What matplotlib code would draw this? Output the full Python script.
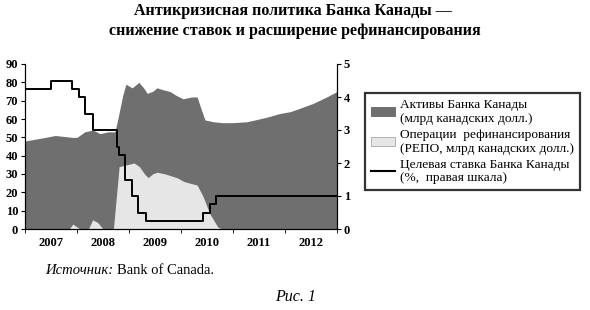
import matplotlib
matplotlib.use("Agg")
import matplotlib.pyplot as plt
from matplotlib.patches import Patch
from matplotlib.lines import Line2D

plt.rcParams["font.family"] = ["Liberation Serif", "DejaVu Serif"]

# Bank of Canada assets, bn CAD (left scale)
assets_t = [2007.0, 2007.2, 2007.4, 2007.58, 2007.75, 2007.9, 2008.0, 2008.15,
            2008.31, 2008.44, 2008.6, 2008.73, 2008.8, 2008.88, 2008.94, 2009.06,
            2009.19, 2009.28, 2009.35, 2009.45, 2009.54, 2009.65, 2009.79, 2009.9,
            2010.04, 2010.2, 2010.31, 2010.38, 2010.46, 2010.62, 2010.8, 2011.0,
            2011.27, 2011.5, 2011.65, 2011.9, 2012.1, 2012.3, 2012.54, 2012.8, 2013.0]
assets_v = [48, 49, 50, 51, 50.5, 50, 50, 53,
            54, 52, 53, 53, 62, 73, 79, 77,
            80, 77, 74, 75, 77, 76, 75, 73,
            71, 72, 72, 66, 59.5, 58.5, 58, 58,
            58.5, 60, 61, 63, 64, 66, 68.5, 72, 75]

# repo operations, bn CAD (left scale)
repo_t = [2007.0, 2007.85, 2007.92, 2007.98, 2008.06, 2008.22, 2008.3, 2008.4,
          2008.5, 2008.7, 2008.81, 2008.95, 2009.1, 2009.2, 2009.3, 2009.37,
          2009.45, 2009.54, 2009.7, 2009.92, 2010.05, 2010.17, 2010.31, 2010.42,
          2010.56, 2010.71, 2010.79, 2013.0]
repo_v = [0, 0, 2.7, 1.5, 0, 0, 5, 3.5,
          0, 0, 34, 35, 36, 34, 30, 28,
          30, 31, 30, 28, 26, 25, 24, 18,
          8, 1, 0, 0]

# target overnight rate, % (right scale)
rate_t = [2007.0, 2007.5, 2007.9, 2008.03, 2008.15, 2008.31, 2008.76, 2008.8,
          2008.93, 2009.05, 2009.17, 2009.32, 2010.42, 2010.55, 2010.68, 2013.0]
rate_v = [4.25, 4.5, 4.25, 4.0, 3.5, 3.0, 2.5, 2.25,
          1.5, 1.0, 0.5, 0.25, 0.5, 0.75, 1.0, 1.0]

years = [2007, 2008, 2009, 2010, 2011, 2012]

dark = "#6f6f6f"
light = "#e6e6e6"

fig = plt.figure(figsize=(5.9, 3.1), dpi=100)
ax = fig.add_axes([25 / 590, 1 - 229 / 310, 312 / 590, 165 / 310])
ax.fill_between(assets_t, 0, assets_v, color=dark, lw=0)
ax.fill_between(repo_t, 0, repo_v, color=light, lw=0)
ax.set_xlim(2007, 2013)
ax.set_ylim(0, 90)
ax.set_yticks(range(0, 91, 10))
ax.set_xticks([y + 0.5 for y in years])
ax.set_xticklabels([str(y) for y in years])
ax.set_xticks(range(2007, 2014), minor=True)
ax.tick_params(axis="x", which="major", length=0, pad=6)
ax.tick_params(axis="x", which="minor", length=3, direction="out")
ax.tick_params(axis="y", length=3, pad=2)
ax.spines["top"].set_visible(False)

ax2 = ax.twinx()
ax2.plot(rate_t, rate_v, color="black", lw=1.4, drawstyle="steps-post")
ax2.set_ylim(0, 5)
ax2.set_yticks(range(0, 6))
ax2.tick_params(axis="y", length=3, pad=2)
ax2.spines["top"].set_visible(False)

for a in (ax, ax2):
    for lab in a.get_xticklabels() + a.get_yticklabels():
        lab.set_fontweight("bold")
        lab.set_fontsize(9)

fig.text(0.497, 1 - 11 / 310, "Антикризисная политика Банка Канады —",
         ha="center", va="center", fontsize=11.5, fontweight="bold")
fig.text(0.5, 1 - 31 / 310, "снижение ставок и расширение рефинансирования",
         ha="center", va="center", fontsize=11.5, fontweight="bold")

handles = [Patch(facecolor=dark, edgecolor="#555555", lw=0.5),
           Patch(facecolor=light, edgecolor="#999999", lw=0.5),
           Line2D([], [], color="black", lw=1.5)]
labels = ["Активы Банка Канады\n(млрд канадских долл.)",
          "Операции  рефинансирования\n(РЕПО, млрд канадских долл.)",
          "Целевая ставка Банка Канады\n(%,  правая шкала)"]
leg = fig.legend(handles, labels, loc="upper left",
                 bbox_to_anchor=(365 / 590, 1 - 93 / 310), borderaxespad=0,
                 fontsize=9.6, frameon=True, fancybox=False, handlelength=1.8,
                 handleheight=0.7, handletextpad=0.4, labelspacing=0.3,
                 borderpad=0.45)
leg.get_frame().set_edgecolor("black")
leg.get_frame().set_linewidth(1.6)

t1 = fig.text(45 / 590, 1 - 270 / 310, "Источник:", fontstyle="italic",
              fontsize=10.5, va="center")
fig.canvas.draw()
bb = t1.get_window_extent()
fig.text(bb.x1 / 590 + 4 / 590, 1 - 270 / 310, "Bank of Canada.",
         fontsize=10.5, va="center")
fig.text(296 / 590, 1 - 297 / 310, "Рис. 1", fontstyle="italic",
         fontsize=11.5, ha="center", va="center")

fig.savefig("out.png", dpi=100)
